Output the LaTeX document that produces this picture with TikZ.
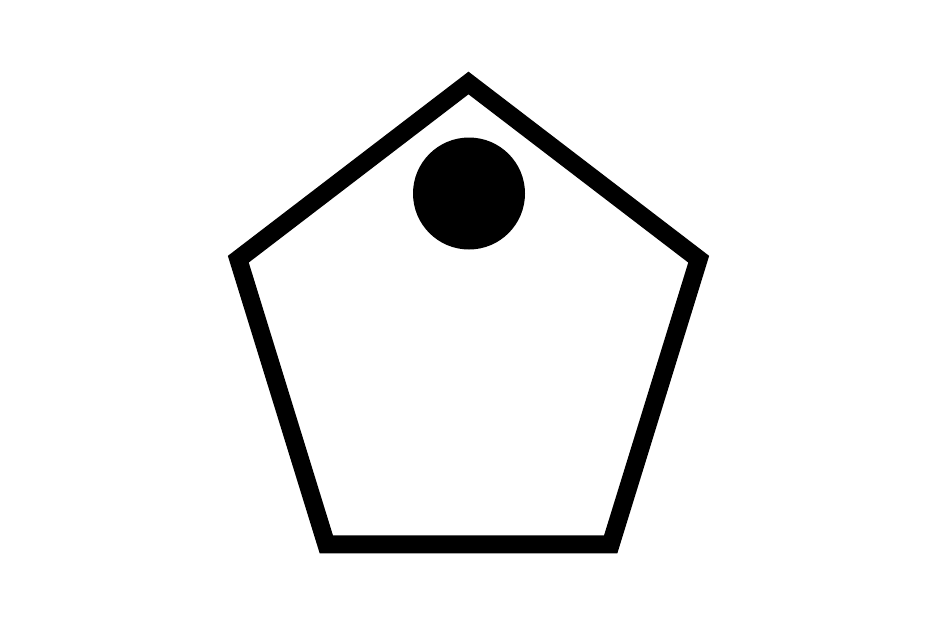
\documentclass[tikz,border=0pt]{standalone}
\begin{document}
\begin{tikzpicture}[x=1pt,y=-1pt,
  pentline/.style={draw=black,line width=18pt,line join=miter,fill=white},
  dot/.style={fill=black}]
\useasboundingbox (0,0) rectangle (938,625);
\fill[white] (0,0) rectangle (938,625);
\coordinate (p1) at (468.5,83);
\coordinate (p2) at (238.3,259.2);
\coordinate (p3) at (326.3,544.3);
\coordinate (p4) at (610.7,544.3);
\coordinate (p5) at (698.7,259.2);
\draw[pentline] (p1) -- (p2) -- (p3) -- (p4) -- (p5) -- cycle;
\fill[dot] (469,193.5) circle (56);
\end{tikzpicture}
\end{document}
